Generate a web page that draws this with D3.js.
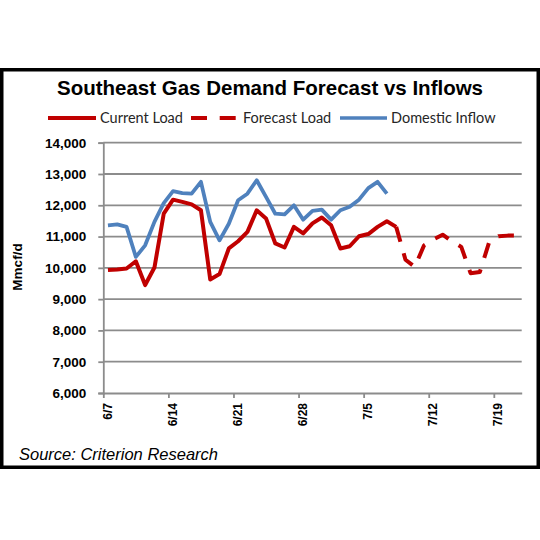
<!DOCTYPE html>
<html>
<head>
<meta charset="utf-8">
<script src="https://cdn.jsdelivr.net/npm/d3@7"></script>
<style>
  html, body { margin: 0; padding: 0; background: #fff; }
  svg { display: block; }
</style>
</head>
<body>
<svg id="chart" width="540" height="540"></svg>
<script>
// ---- data ----
const title = "Southeast Gas Demand Forecast vs Inflows";
const seriesNames = ["Current Load", "Forecast Load", "Domestic Inflow"];
const yAxisTitle = "Mmcf/d";
const sourceText = "Source: Criterion Research";

// x tick labels (every 7 days starting 6/7), day offsets from 6/7
const xTickLabels = ["6/7", "6/14", "6/21", "6/28", "7/5", "7/12", "7/19"];
const xTickDays = [0, 7, 14, 21, 28, 35, 42];
const yTickValues = [6000, 7000, 8000, 9000, 10000, 11000, 12000, 13000, 14000];

// Current Load: days 0..31 (6/7 .. 7/8)
const currentStartDay = 0;
const currentLoad = [9930, 9950, 9980, 10210, 9450, 10010, 11730, 12180, 12110, 12030,
  11840, 9630, 9800, 10620, 10850, 11150, 11840, 11580, 10780, 10650,
  11310, 11100, 11420, 11610, 11360, 10620, 10690, 11010, 11080, 11310,
  11490, 11310];

// Forecast Load: days 31..44 (7/8 .. 7/21)
const forecastStartDay = 31;
const forecastLoad = [11310, 10260, 10030, 10720, 10910, 11060, 10850, 10670, 9830, 9870,
  10820, 11010, 11030, 11030];

// Domestic Inflow: days 0..30 (6/7 .. 7/7)
const inflowStartDay = 0;
const domesticInflow = [11360, 11390, 11310, 10350, 10720, 11470, 12070, 12450, 12390, 12370,
  12750, 11470, 10880, 11410, 12160, 12370, 12800, 12270, 11730, 11710,
  12000, 11540, 11820, 11860, 11540, 11840, 11950, 12180, 12550, 12750,
  12370];

// ---- drawing ----
const svg = d3.select("#chart");
const red = "#C00000", blue = "#4F81BD", grid = "#8c8c8c";

// frame
svg.append("rect").attr("x", 1.75).attr("y", 69.75).attr("width", 536.5).attr("height", 397.5)
  .attr("fill", "none").attr("stroke", "#000").attr("stroke-width", 3.5);

// title
svg.append("text").attr("x", 270).attr("y", 94.5).attr("text-anchor", "middle")
  .attr("font-family", "Liberation Sans, Arial, sans-serif").attr("font-weight", "bold")
  .attr("font-size", 20.5).attr("fill", "#000").text(title);

const plot = { left: 103.3, right: 521.7, top: 142.7, bottom: 393 };
const x = d3.scaleLinear().domain([0, 45]).range([plot.left, plot.right]);
const y = d3.scaleLinear().domain([6000, 14000]).range([plot.bottom, plot.top]);

// gridlines
svg.append("g").selectAll("line").data(yTickValues.filter(v => v > 6000)).join("line")
  .attr("x1", plot.left).attr("x2", plot.right)
  .attr("y1", d => y(d)).attr("y2", d => y(d))
  .attr("stroke", grid).attr("stroke-width", 1.8);

// y axis
const yAxis = svg.append("g").attr("transform", `translate(${plot.left},0)`)
  .call(d3.axisLeft(y).tickValues(yTickValues).tickFormat(d3.format(",")).tickSize(5).tickPadding(12));
yAxis.select(".domain").attr("stroke", grid).attr("stroke-width", 1.8);
yAxis.selectAll(".tick line").attr("stroke", grid).attr("stroke-width", 1.8);
yAxis.selectAll(".tick text").attr("font-family", "Liberation Sans, Arial, sans-serif")
  .attr("font-weight", "bold").attr("font-size", 13.5).attr("fill", "#000");

// x axis
const xAxis = svg.append("g").attr("transform", `translate(0,${plot.bottom})`)
  .call(d3.axisBottom(x).tickValues(xTickDays).tickFormat((d, i) => xTickLabels[i]).tickSize(5).tickSizeOuter(0));
xAxis.select(".domain").attr("stroke", grid).attr("stroke-width", 1.8);
xAxis.selectAll(".tick line").attr("stroke", grid).attr("stroke-width", 1.8);
xAxis.selectAll(".tick text")
  .attr("font-family", "Liberation Sans, Arial, sans-serif").attr("font-weight", "bold")
  .attr("font-size", 12).attr("fill", "#000")
  .attr("text-anchor", "end").attr("transform", "translate(8,10) rotate(-90)")
  .attr("x", 0).attr("y", 0).attr("dy", 0);

// y axis title
svg.append("text").attr("transform", "translate(22,267) rotate(-90)")
  .attr("text-anchor", "middle").attr("font-family", "Liberation Sans, Arial, sans-serif")
  .attr("font-weight", "bold").attr("font-size", 13.5).attr("fill", "#000").text(yAxisTitle);

// lines (points at the middle of each day)
const line = d3.line().x(d => x(d.day + 0.5)).y(d => y(d.v));
const toPts = (arr, start) => arr.map((v, i) => ({ day: start + i, v }));

svg.append("path").datum(toPts(domesticInflow, inflowStartDay)).attr("d", line)
  .attr("fill", "none").attr("stroke", blue).attr("stroke-width", 3.8).attr("stroke-linejoin", "round");
svg.append("path").datum(toPts(currentLoad, currentStartDay)).attr("d", line)
  .attr("fill", "none").attr("stroke", red).attr("stroke-width", 4).attr("stroke-linejoin", "round");
svg.append("path").datum(toPts(forecastLoad, forecastStartDay)).attr("d", line)
  .attr("fill", "none").attr("stroke", red).attr("stroke-width", 4).attr("stroke-linejoin", "round")
  .attr("stroke-dasharray", "15.5,12");

// legend
const legendY = 118;
const leg = svg.append("g").attr("font-family", "Lato, 'Open Sans', sans-serif").attr("font-size", 14.5).attr("fill", "#262626");
const legItems = [
  { name: seriesNames[0], color: red, dash: null, x1: 48, x2: 96, tx: 100, w: 4 },
  { name: seriesNames[1], color: red, dash: "16,12.7", x1: 191, x2: 236, tx: 243, w: 4 },
  { name: seriesNames[2], color: blue, dash: null, x1: 340, x2: 387, tx: 391, w: 3.5 }
];
legItems.forEach(it => {
  leg.append("line").attr("x1", it.x1).attr("x2", it.x2).attr("y1", legendY).attr("y2", legendY)
    .attr("stroke", it.color).attr("stroke-width", it.w).attr("stroke-dasharray", it.dash);
  leg.append("text").attr("x", it.tx).attr("y", legendY + 5).text(it.name);
});

// source
svg.append("text").attr("x", 19).attr("y", 460)
  .attr("font-family", "Liberation Sans, Arial, sans-serif").attr("font-style", "italic")
  .attr("font-size", 16.5).attr("fill", "#000").text(sourceText);
</script>
</body>
</html>
